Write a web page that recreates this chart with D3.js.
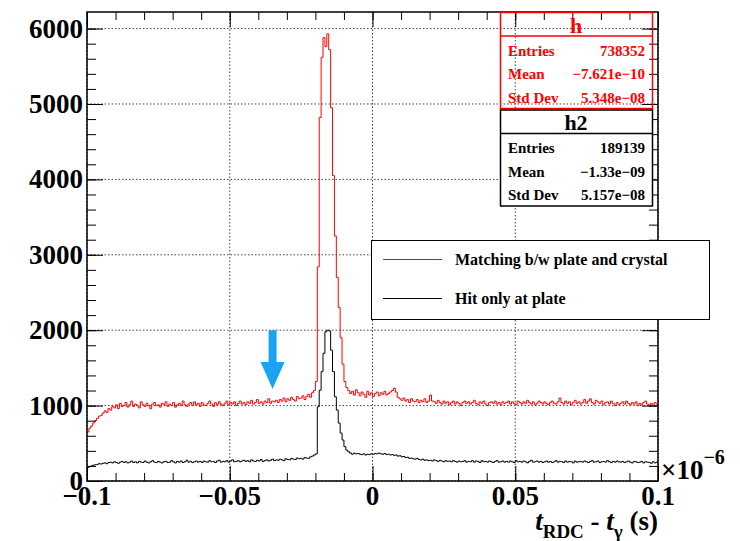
<!DOCTYPE html>
<html>
<head>
<meta charset="utf-8">
<script src="https://cdn.jsdelivr.net/npm/d3@7"></script>
<style>
  body { margin: 0; background: #fff; }
  svg text { font-family: "Liberation Serif", "Times New Roman", serif; font-weight: bold; }
</style>
</head>
<body>
<div id="graph"></div>
<script>
'use strict';

// axis ranges and ticks (x in units of 1e-6 s)
const xDomain = [-0.1, 0.1];
const yTop = 6220;
const xMajor = [-0.1, -0.05, 0, 0.05, 0.1];
const xMinor = d3.range(-10, 11).map(d => d / 100);
const yMajor = [0, 1000, 2000, 3000, 4000, 5000, 6000];
const yMinor = d3.range(0, 31).map(d => d * 200);

// histogram "h" (red): 300 bins over [-0.1, 0.1]
const redCounts = [
  650, 700, 730, 770, 800, 830, 860, 870, 900, 930, 910, 960, 940, 990, 970, 1010, 960, 1030, 990, 1000,
  1040, 980, 1010, 1060, 990, 1020, 1000, 970, 1050, 1010, 990, 1030, 1000, 960, 1020, 1040, 1000, 1010, 980, 1030,
  1010, 1050, 990, 1020, 1000, 1040, 980, 1010, 1030, 1000, 1060, 1010, 990, 1020, 1040, 1000, 1050, 1010, 1030, 990,
  1040, 1010, 1000, 1030, 1060, 1020, 990, 1040, 1010, 1050, 1020, 1000, 1030, 1060, 1010, 1040, 1020, 1050, 1000, 1030,
  1060, 1020, 1040, 1010, 1050, 1030, 1070, 1020, 1040, 1080, 1030, 1050, 1020, 1060, 1040, 1090, 1030, 1060, 1050, 1070,
  1040, 1080, 1060, 1100, 1050, 1090, 1070, 1110, 1080, 1060, 1120, 1090, 1100, 1130, 1080, 1120, 1150, 1110, 1170, 1200,
  1320, 2840, 4820, 5620, 5880, 5760, 5930, 5720, 4950, 4050, 3250, 2700, 2300, 1900, 1550, 1320, 1240, 1200, 1160, 1190,
  1140, 1210, 1170, 1130, 1180, 1150, 1110, 1190, 1140, 1170, 1120, 1160, 1180, 1130, 1170, 1150, 1190, 1140, 1160, 1180,
  1200, 1230, 1180, 1110, 1090, 1070, 1100, 1060, 1080, 1040, 1090, 1060, 1050, 1080, 1040, 1070, 1050, 1090, 1040, 1060,
  1140, 1060, 1050, 1030, 1070, 1040, 1020, 1060, 1030, 1050, 1010, 1040, 1060, 1020, 1050, 1030, 1000, 1040, 1060, 1030,
  1050, 1020, 1040, 1070, 1030, 1010, 1050, 1030, 1060, 1020, 1000, 1040, 1050, 1030, 1060, 1020, 1040, 1010, 1050, 1030,
  1040, 1060, 1020, 1050, 1030, 1010, 1060, 1040, 1020, 1050, 1030, 1070, 1040, 1020, 1050, 1010, 1030, 1060, 1040, 1020,
  1050, 1030, 1010, 1040, 1060, 1030, 1020, 1050, 1100, 1040, 1020, 1060, 1030, 1050, 1010, 1040, 1070, 1030, 1050, 1020,
  1040, 1080, 1030, 1060, 1090, 1040, 1020, 1070, 1050, 1030, 1060, 1010, 1040, 1050, 1020, 1060, 1030, 1000, 1040, 1010,
  1030, 1050, 1020, 1060, 1030, 1010, 1040, 1020, 1050, 1000, 1030, 1010, 1040, 1060, 1020, 1000, 1030, 1010, 1040, 1020
];

// histogram "h2" (black)
const blackCounts = [
  180, 190, 200, 210, 215, 220, 230, 225, 235, 240, 230, 245, 250, 240, 255, 245, 235, 250, 260, 245,
  255, 240, 250, 265, 245, 255, 240, 260, 250, 245, 265, 250, 240, 255, 270, 250, 245, 260, 250, 240,
  255, 260, 245, 250, 270, 255, 240, 260, 250, 265, 245, 255, 275, 250, 260, 245, 255, 265, 250, 260,
  245, 265, 255, 250, 270, 255, 260, 245, 265, 275, 250, 260, 255, 270, 250, 265, 280, 255, 260, 270,
  255, 265, 275, 260, 270, 255, 280, 265, 260, 275, 265, 285, 260, 270, 280, 265, 275, 290, 270, 280,
  275, 290, 280, 270, 295, 285, 280, 300, 290, 285, 305, 295, 300, 290, 310, 305, 300, 320, 330, 345,
  360, 985, 1205, 1450, 1695, 1980, 2000, 1990, 1735, 1450, 1117, 940, 768, 636, 543, 455, 410, 388, 370, 355,
  370, 360, 365, 355, 350, 360, 345, 355, 350, 360, 355, 365, 360, 370, 360, 355, 365, 350, 355, 345,
  350, 340, 345, 330, 335, 320, 325, 310, 315, 300, 305, 295, 290, 300, 285, 280, 290, 275, 280, 270,
  275, 265, 280, 270, 260, 275, 265, 255, 270, 260, 265, 255, 270, 260, 250, 265, 255, 260, 270, 250,
  260, 255, 270, 250, 265, 260, 245, 270, 255, 260, 250, 265, 255, 245, 260, 270, 250, 255, 265, 250,
  260, 250, 265, 255, 245, 270, 255, 260, 250, 265, 255, 240, 260, 275, 250, 255, 265, 250, 260, 245,
  255, 265, 250, 260, 245, 255, 270, 250, 260, 255, 245, 265, 250, 260, 255, 240, 265, 250, 255, 260,
  250, 265, 255, 245, 260, 270, 250, 255, 265, 245, 255, 260, 250, 270, 255, 245, 260, 250, 265, 255,
  250, 260, 245, 255, 265, 250, 240, 260, 255, 245, 250, 260, 240, 255, 250, 245, 235, 255, 240, 250
];

// stats boxes and legend text
const statsRed = [["Entries", "738352"], ["Mean", "\u22127.621e\u221210"], ["Std Dev", "5.348e\u221208"]];
const statsBlack = [["Entries", "189139"], ["Mean", "\u22121.33e\u221209"], ["Std Dev", "5.157e\u221208"]];
const legendItems = [
  { label: "Matching b/w plate and crystal", color: "#ff0000" },
  { label: "Hit only at plate", color: "#000000" }
];

// arrow annotation (data coords)
const arrowX = -0.035;
const arrowFrom = 2000;
const arrowTo = 1220;

const svg = d3.select('#graph').append('svg')
  .attr('width', 740)
  .attr('height', 541);

const x = d3.scaleLinear().domain(xDomain).range([87, 658]);
const y = d3.scaleLinear().domain([0, yTop]).range([481, 12]);

// grid
svg.append('g').selectAll('line')
  .data(xMajor)
  .enter().append('line')
  .attr('x1', d => x(d)).attr('x2', d => x(d))
  .attr('y1', y(yTop)).attr('y2', y(0))
  .attr('stroke', '#444').attr('stroke-dasharray', '1.5,2');
svg.append('g').selectAll('line')
  .data(yMajor)
  .enter().append('line')
  .attr('x1', x(xDomain[0])).attr('x2', x(xDomain[1]))
  .attr('y1', d => y(d)).attr('y2', d => y(d))
  .attr('stroke', '#444').attr('stroke-dasharray', '1.5,2');

// histograms as step lines
const binWidth = (xDomain[1] - xDomain[0]) / redCounts.length;
function stepPoints(counts) {
  let pts = counts.map((v, i) => [xDomain[0] + i * binWidth, v]);
  pts.push([xDomain[1], counts[counts.length - 1]]);
  return pts;
}
const line = d3.line()
  .x(d => x(d[0]))
  .y(d => y(d[1]))
  .curve(d3.curveStepAfter);

svg.append('path')
  .datum(stepPoints(redCounts))
  .attr('d', line)
  .attr('fill', 'none')
  .attr('stroke', '#ff0000')
  .attr('stroke-width', 1);

svg.append('path')
  .datum(stepPoints(blackCounts))
  .attr('d', line)
  .attr('fill', 'none')
  .attr('stroke', '#000')
  .attr('stroke-width', 1);

// ticks on all four sides, pointing inward
function ticks(axis, vals, size, transform) {
  let g = svg.append('g')
    .attr('transform', transform)
    .call(axis.tickValues(vals).tickSizeInner(-size).tickSizeOuter(0).tickFormat(''));
  g.select('.domain').remove();
  g.selectAll('line').attr('stroke', '#000');
}
ticks(d3.axisBottom(x), xMinor, 8, 'translate(0,481)');
ticks(d3.axisBottom(x), xMajor, 15, 'translate(0,481)');
ticks(d3.axisTop(x), xMinor, 8, 'translate(0,12)');
ticks(d3.axisTop(x), xMajor, 15, 'translate(0,12)');
ticks(d3.axisLeft(y), yMinor, 9, 'translate(87,0)');
ticks(d3.axisLeft(y), yMajor, 16, 'translate(87,0)');
ticks(d3.axisRight(y), yMinor, 9, 'translate(658,0)');
ticks(d3.axisRight(y), yMajor, 16, 'translate(658,0)');

// frame
svg.append('rect')
  .attr('x', 87).attr('y', 12)
  .attr('width', 571).attr('height', 469)
  .attr('fill', 'none').attr('stroke', '#000').attr('stroke-width', 1.5);

// tick labels
const fmtX = d3.format('~g');
svg.append('g').selectAll('text')
  .data(xMajor)
  .enter().append('text')
  .attr('x', d => x(d))
  .attr('y', 505)
  .attr('text-anchor', 'middle')
  .style('font-size', '27px')
  .text(d => fmtX(d));

svg.append('g').selectAll('text')
  .data(yMajor)
  .enter().append('text')
  .attr('x', 83)
  .attr('y', d => y(d) + 9)
  .attr('text-anchor', 'end')
  .style('font-size', '27px')
  .text(d => d);

// exponent label
let expo = svg.append('text').attr('x', 661).attr('y', 479).style('font-size', '27px');
expo.append('tspan').text('\u00d710');
expo.append('tspan').attr('dy', -15).style('font-size', '20px').text('\u22126');

// axis title
let title = svg.append('text')
  .attr('x', 658).attr('y', 530)
  .attr('text-anchor', 'end')
  .style('font-size', '27px');
title.append('tspan').style('font-style', 'italic').text('t');
title.append('tspan').attr('dy', 8).style('font-size', '19px').text('RDC');
title.append('tspan').attr('dy', -8).text(' -  ');
title.append('tspan').style('font-style', 'italic').text('t');
title.append('tspan').attr('dy', 8).style('font-size', '19px').text('\u03b3');
title.append('tspan').attr('dy', -8).text(' (s)');

// arrow
const ax = x(arrowX), ay0 = y(arrowFrom), ay1 = y(arrowTo);
svg.append('path')
  .attr('d', `M${ax - 4},${ay0} L${ax + 4},${ay0} L${ax + 4},${ay1 - 27} L${ax + 12},${ay1 - 27} L${ax},${ay1} L${ax - 12},${ay1 - 27} L${ax - 4},${ay1 - 27} Z`)
  .attr('fill', '#1aa3f2');

// legend
svg.append('rect')
  .attr('x', 371.5).attr('y', 240.5)
  .attr('width', 338).attr('height', 79)
  .attr('fill', '#fff').attr('stroke', '#000').attr('stroke-width', 1);
legendItems.forEach((d, i) => {
  let ly = 259.5 + i * 39;
  svg.append('line')
    .attr('x1', 383).attr('x2', 442)
    .attr('y1', ly).attr('y2', ly)
    .attr('stroke', d.color).attr('stroke-width', 1);
  svg.append('text')
    .attr('x', 455).attr('y', ly + 5.5)
    .style('font-size', '16px')
    .text(d.label);
});

// stats boxes
function statsBox(top, name, rows, color, fill) {
  svg.append('rect')
    .attr('x', 500.5).attr('y', top)
    .attr('width', 152).attr('height', 96)
    .attr('fill', fill).attr('stroke', color).attr('stroke-width', 1.5);
  svg.append('line')
    .attr('x1', 500.5).attr('x2', 652.5)
    .attr('y1', top + 23.5).attr('y2', top + 23.5)
    .attr('stroke', color).attr('stroke-width', 1.5);
  svg.append('text')
    .attr('x', 576).attr('y', top + 20)
    .attr('text-anchor', 'middle')
    .style('font-size', '22px')
    .attr('fill', color)
    .text(name);
  rows.forEach((r, i) => {
    let ty = top + 43 + i * 23.5;
    svg.append('text').attr('x', 508).attr('y', ty)
      .style('font-size', '15px').attr('fill', color).text(r[0]);
    svg.append('text').attr('x', 645).attr('y', ty)
      .attr('text-anchor', 'end')
      .style('font-size', '15px').attr('fill', color).text(r[1]);
  });
}
statsBox(12.5, 'h', statsRed, '#ff0000', 'none');
statsBox(110, 'h2', statsBlack, '#000', '#fff');
</script>
</body>
</html>
